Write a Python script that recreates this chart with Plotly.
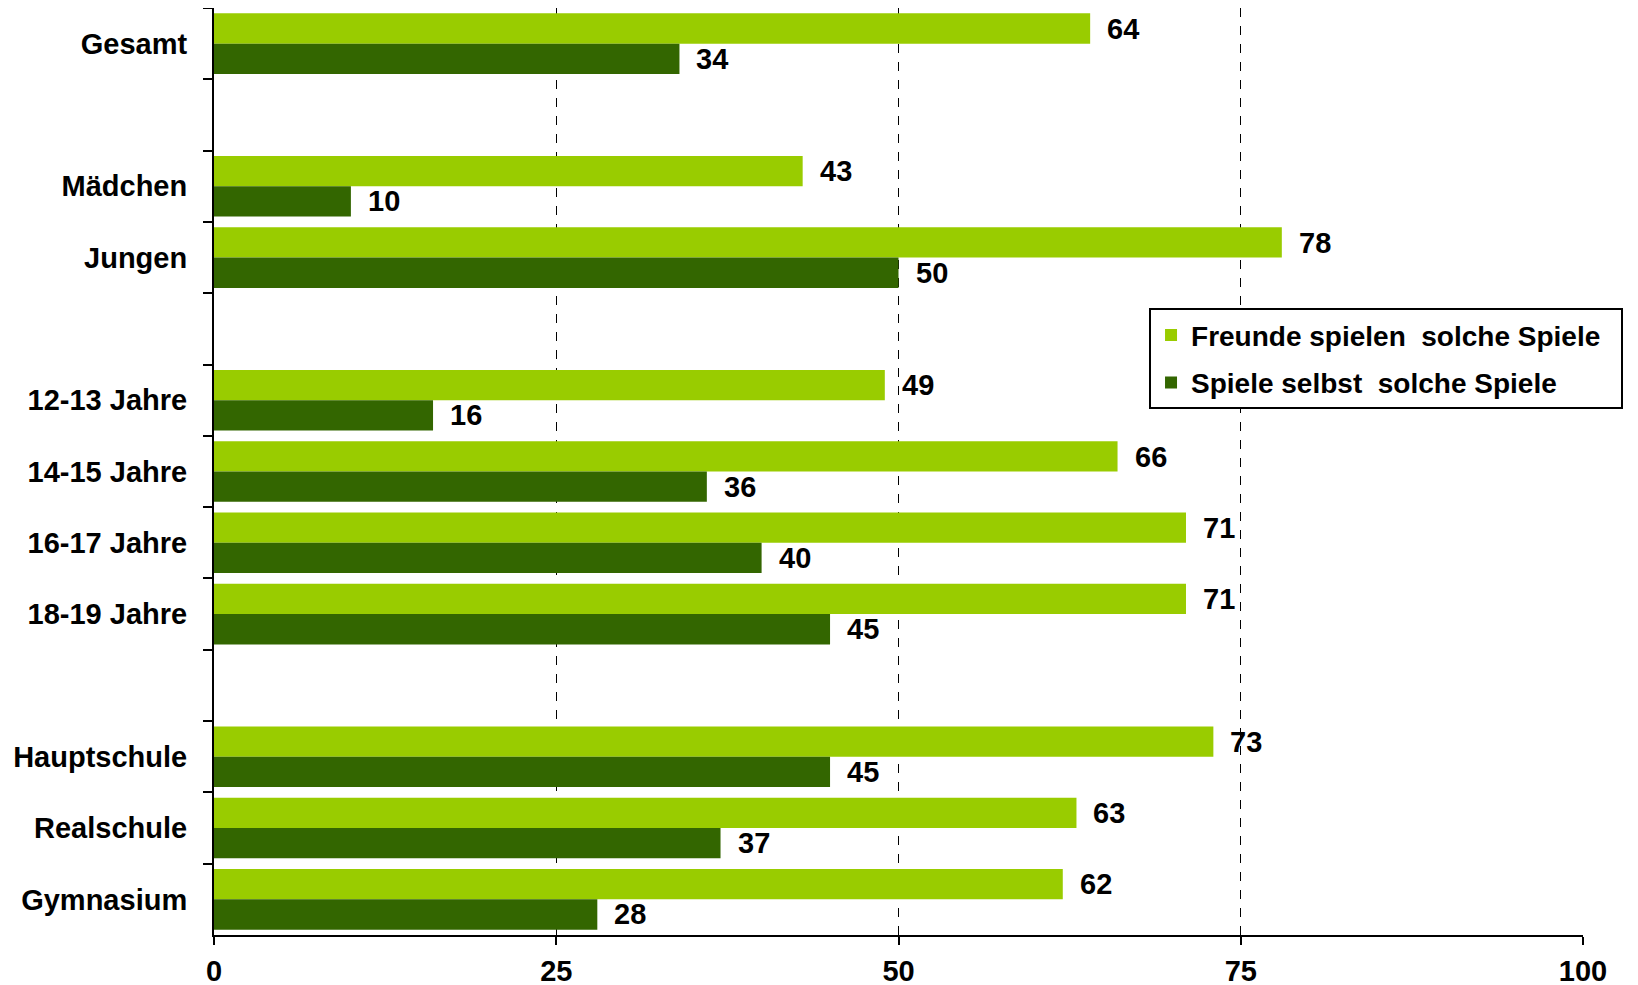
import plotly.graph_objects as go

categories = ["Gesamt", " ", "Mädchen", "Jungen", "  ", "12-13 Jahre", "14-15 Jahre",
              "16-17 Jahre", "18-19 Jahre", "   ", "Hauptschule", "Realschule", "Gymnasium"]
freunde = [64, None, 43, 78, None, 49, 66, 71, 71, None, 73, 63, 62]
selbst = [34, None, 10, 50, None, 16, 36, 40, 45, None, 45, 37, 28]
series_names = ["Freunde spielen  solche Spiele  ", "Spiele selbst  solche Spiele"]
colors = ["#99CC00", "#336600"]
x_ticks = [0, 25, 50, 75, 100]

FONT = "Liberation Sans, Arial, sans-serif"
FS = 29

fig = go.Figure()
for name, vals, col in zip(series_names, [freunde, selbst], colors):
    fig.add_trace(go.Bar(
        y=categories, x=vals, name=name, orientation="h",
        marker=dict(color=col, line=dict(width=0)),
        legendgroup=name,
    ))

# value labels
for vals, shift in [(freunde, 15), (selbst, -15)]:
    for c, v in zip(categories, vals):
        if v is None:
            continue
        fig.add_annotation(x=v, y=c, text=str(v), showarrow=False,
                           xanchor="left", yanchor="middle", xshift=15, yshift=shift,
                           font=dict(family=FONT, size=FS, color="black", weight="bold"))

fig.update_layout(
    width=1622, height=977,
    margin=dict(l=206, r=47, t=0, b=50),
    plot_bgcolor="white", paper_bgcolor="white",
    barmode="group", bargap=0.15, bargroupgap=0,
    font=dict(family=FONT, size=FS, color="black", weight="bold"),
    legend=dict(x=0.683, y=0.676, xanchor="left", yanchor="top",
                bordercolor="black", borderwidth=2, bgcolor="white",
                tracegroupgap=8,
                font=dict(family=FONT, size=28, color="black", weight="bold")),
    showlegend=True,
)
fig.update_xaxes(range=[0, 100], tickvals=x_ticks, showgrid=True, gridcolor="black",
                 griddash="dash", gridwidth=1, zeroline=False, automargin=False,
                 showline=True, linecolor="black", linewidth=2,
                 ticks="outside", ticklen=8, tickwidth=2, tickcolor="black",
                 ticklabelstandoff=1)
fig.update_yaxes(autorange="reversed", type="category", tickson="boundaries",
                 automargin=False,
                 showline=True, linecolor="black", linewidth=2,
                 ticks="outside", ticklen=9, tickwidth=2, tickcolor="black",
                 showgrid=False, ticklabelstandoff=19)

fig.write_html("out.html")
